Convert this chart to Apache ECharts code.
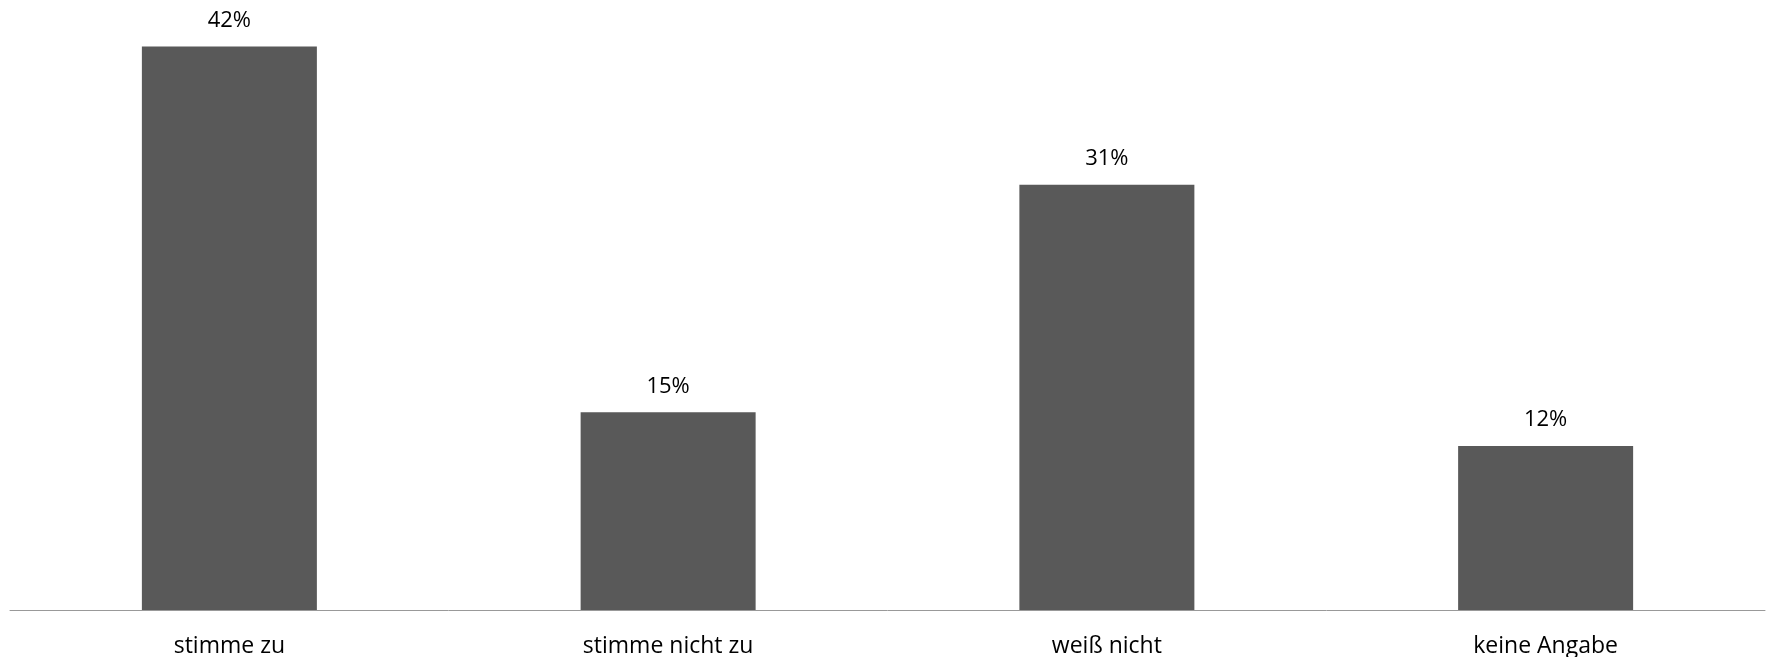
<!DOCTYPE html>
<html>
<head>
<meta charset="utf-8">
<script src="https://cdn.jsdelivr.net/npm/echarts@6/dist/echarts.min.js"></script>
<style>
html,body{margin:0;padding:0;background:#fff;}
#chart{width:1769px;height:657px;}
</style>
</head>
<body>
<div id="chart"></div>
<script>
const categories = ['stimme zu', 'stimme nicht zu', 'weiß nicht', 'keine Angabe'];
const values = [41.6, 14.6, 31.4, 12.1];

const chart = echarts.init(document.getElementById('chart'), null, {renderer: 'canvas'});
chart.setOption({
  animation: false,
  backgroundColor: '#ffffff',
  grid: {left: 10, right: 4, top: 14, bottom: 47, containLabel: false, outerBoundsMode: 'none'},
  xAxis: {
    type: 'category',
    data: categories,
    axisLine: {show: true, lineStyle: {color: '#999999', width: 1}},
    axisTick: {show: false},
    axisLabel: {
      color: '#000000',
      fontFamily: 'Open Sans',
      fontSize: 23,
      margin: 25
    }
  },
  yAxis: {
    type: 'value',
    min: 0,
    max: 44,
    show: false,
    splitLine: {show: false}
  },
  series: [{
    type: 'bar',
    data: values,
    barWidth: 175,
    itemStyle: {color: '#595959'},
    label: {
      show: true,
      position: 'top',
      distance: 15,
      color: '#000000',
      fontFamily: 'Open Sans',
      fontSize: 22,
      formatter: p => Math.round(p.value) + '%'
    }
  }]
});
</script>
</body>
</html>
